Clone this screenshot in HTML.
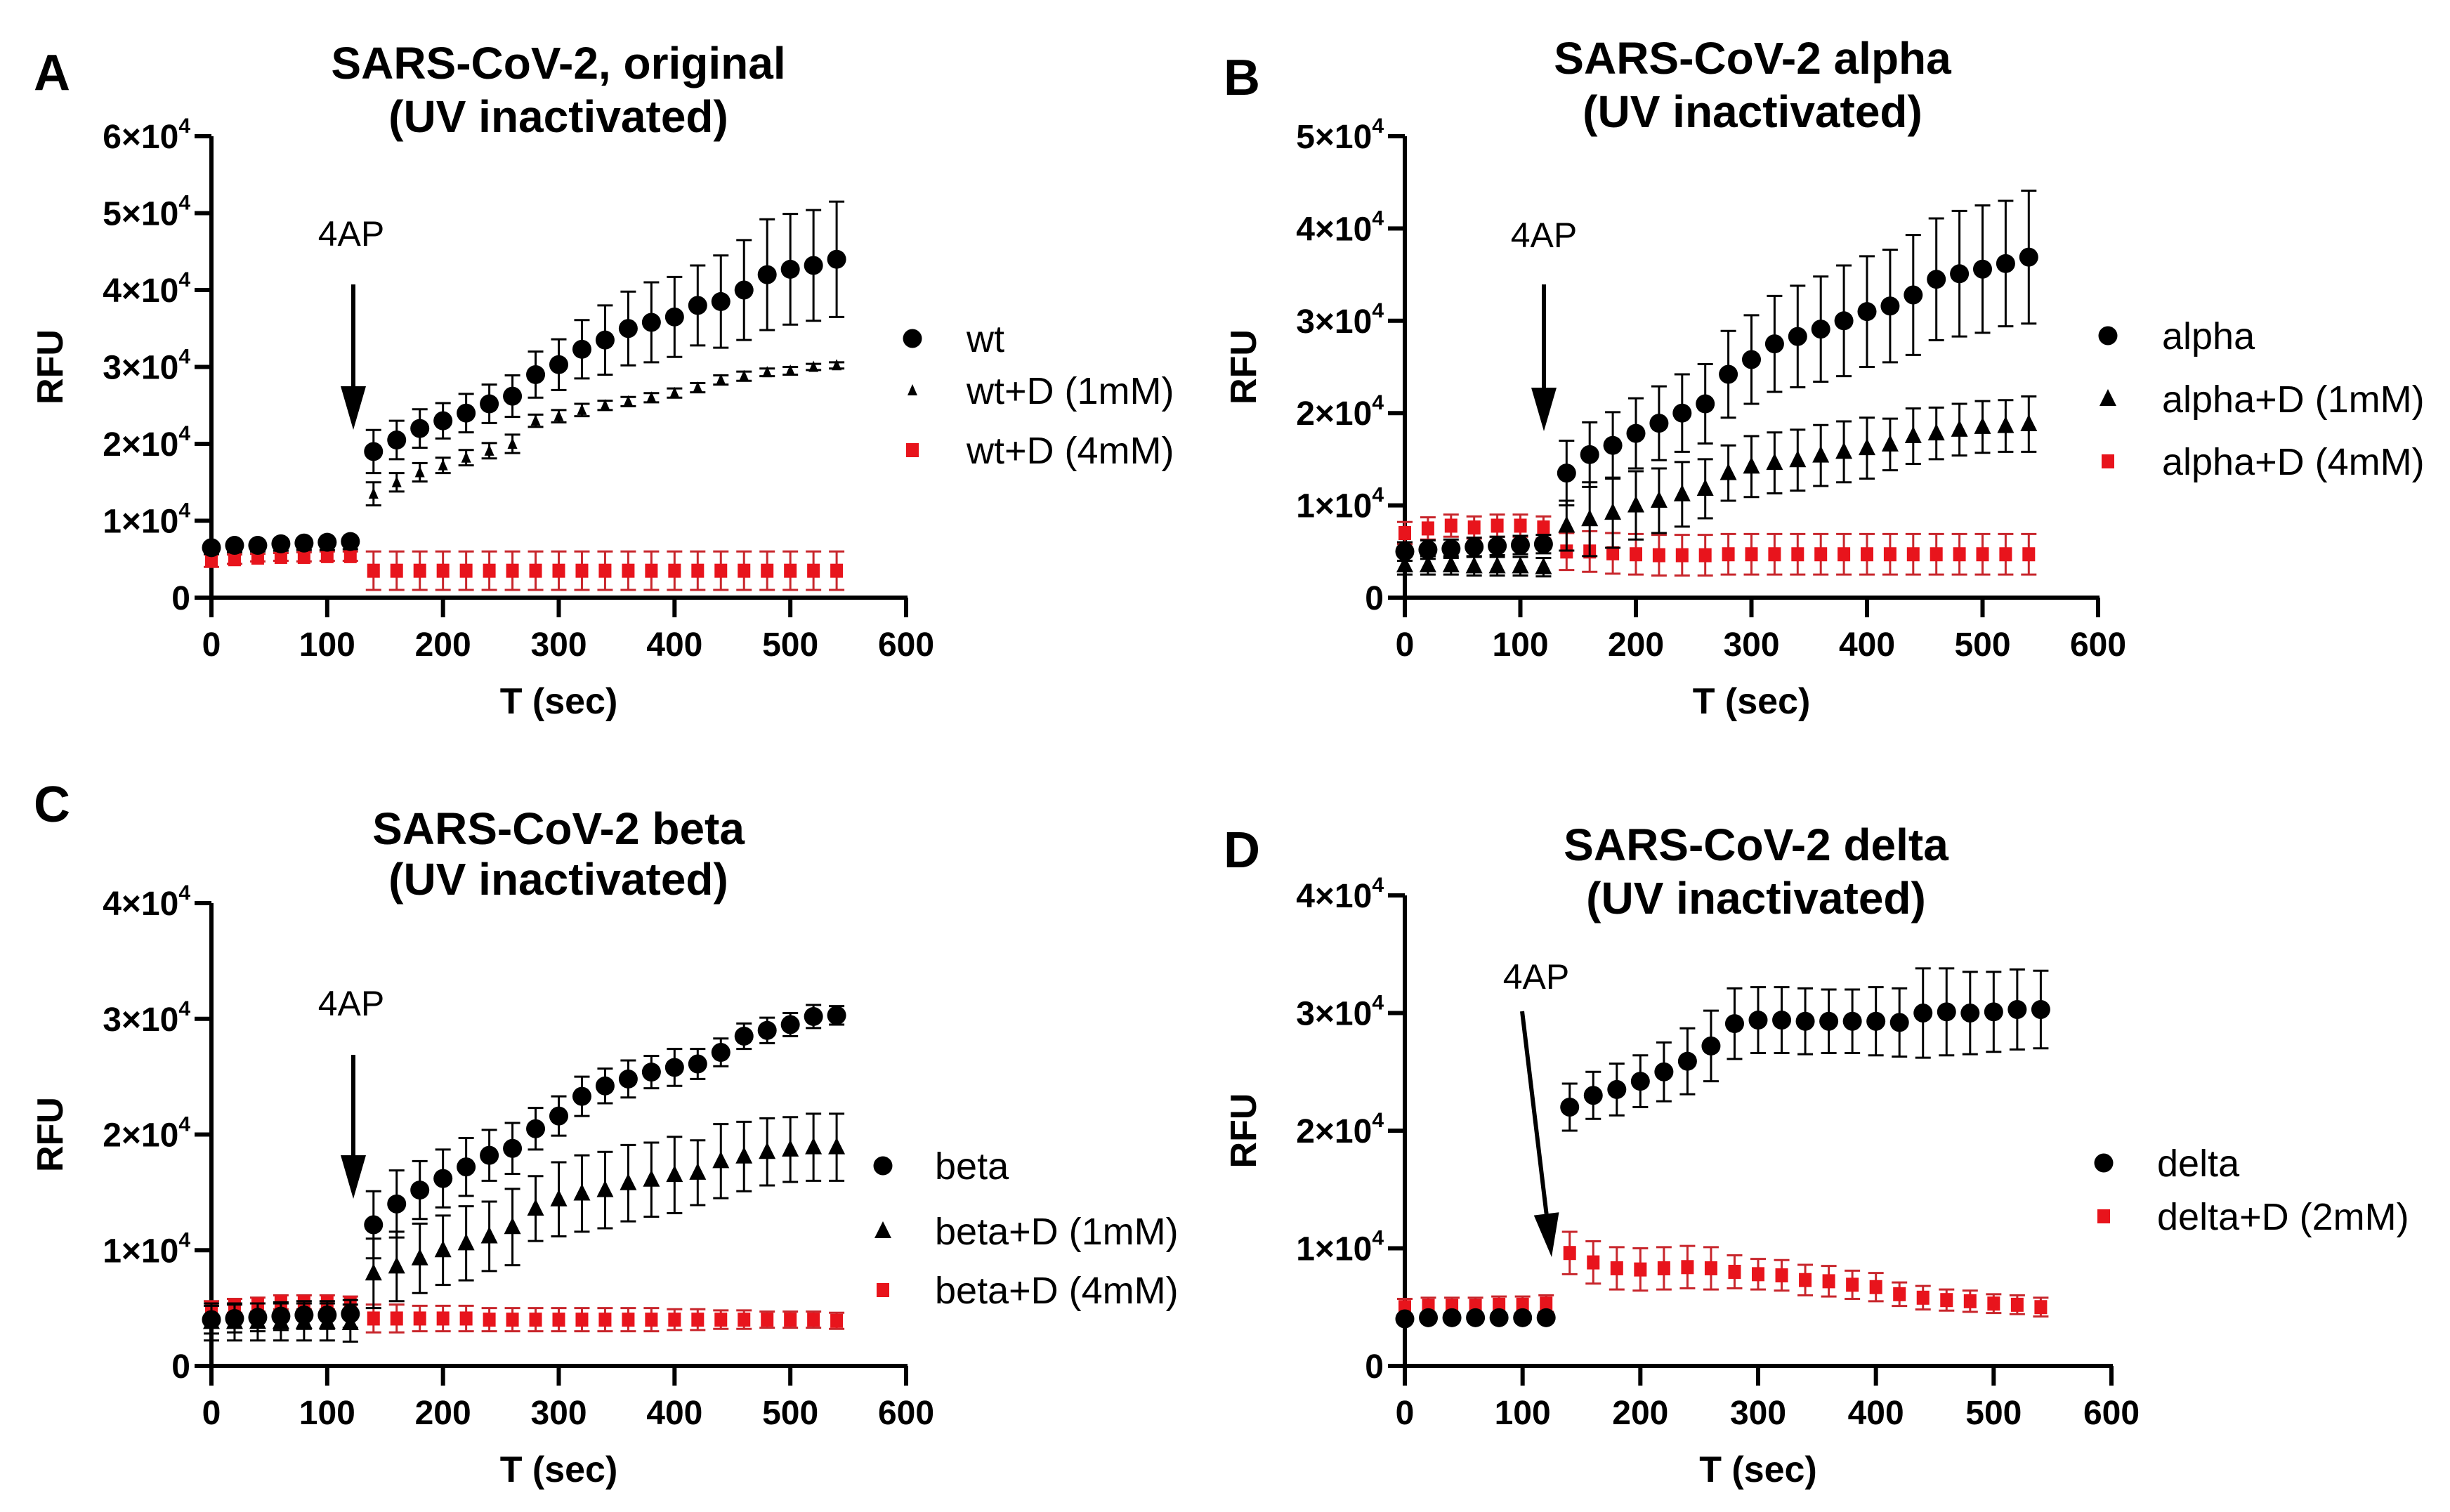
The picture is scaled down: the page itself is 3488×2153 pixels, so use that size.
<!DOCTYPE html>
<html><head><meta charset="utf-8"><style>
html,body{margin:0;padding:0;background:#fff;}
svg{display:block;}
text{font-family:"Liberation Sans",Arial,sans-serif;}
</style></head><body>
<svg id="fig" xmlns="http://www.w3.org/2000/svg" width="3488" height="2153" viewBox="0 0 3488 2153"></svg>
<script>
// ---- shared x values (sec) ----
const timesPre = [0,20,40,60,80,100,120];
const timesPost = [140,160,180,200,220,240,260,280,300,320,340,360,380,400,420,440,460,480,500,520,540];
const xTicks = [0,100,200,300,400,500,600];

// ---- Panel A (values in units of 1e4 RFU) ----
const aWtPre = [0.65,0.68,0.68,0.70,0.71,0.72,0.73];
const aWtPreErr = [0.05,0.05,0.05,0.05,0.05,0.05,0.05];
const aWtPost = [1.90,2.05,2.20,2.30,2.40,2.52,2.62,2.90,3.03,3.23,3.35,3.50,3.58,3.65,3.80,3.85,4.00,4.20,4.27,4.32,4.40];
const aWtPostErr = [0.28,0.25,0.25,0.23,0.25,0.25,0.27,0.30,0.33,0.38,0.45,0.48,0.52,0.52,0.52,0.60,0.65,0.72,0.72,0.72,0.75];
const aD1Pre = [0.62,0.64,0.65,0.66,0.67,0.67,0.68];
const aD1PreErr = [0.05,0.05,0.05,0.05,0.05,0.05,0.05];
const aD1Post = [1.35,1.50,1.63,1.72,1.82,1.91,2.00,2.30,2.36,2.44,2.50,2.55,2.60,2.66,2.73,2.83,2.88,2.93,2.95,3.00,3.02];
const aD1PostErr = [0.15,0.12,0.12,0.10,0.10,0.10,0.12,0.08,0.08,0.08,0.06,0.06,0.06,0.06,0.06,0.06,0.06,0.05,0.05,0.04,0.04];
const aD4Pre = [0.48,0.50,0.52,0.53,0.53,0.54,0.54];
const aD4PreErr = [0.08,0.06,0.05,0.05,0.06,0.06,0.06];
const aD4Post = [0.35,0.35,0.35,0.35,0.35,0.35,0.35,0.35,0.35,0.35,0.35,0.35,0.35,0.35,0.35,0.35,0.35,0.35,0.35,0.35,0.35];
const aD4PostErr = [0.25,0.25,0.25,0.25,0.25,0.25,0.25,0.25,0.25,0.25,0.25,0.25,0.25,0.25,0.25,0.25,0.25,0.25,0.25,0.25,0.25];
const aYTicks = [0,1,2,3,4,5,6];

// ---- Panel B ----
const bAlPre = [0.50,0.52,0.53,0.55,0.56,0.57,0.58];
const bAlPreErr = [0.10,0.10,0.10,0.10,0.10,0.10,0.10];
const bAlPost = [1.35,1.55,1.65,1.78,1.89,2.00,2.10,2.42,2.58,2.75,2.83,2.91,3.00,3.10,3.16,3.28,3.45,3.51,3.56,3.62,3.69];
const bAlPostErr = [0.35,0.35,0.36,0.38,0.40,0.42,0.43,0.47,0.48,0.52,0.55,0.57,0.60,0.60,0.61,0.65,0.66,0.68,0.69,0.68,0.72];
const bD1Pre = [0.35,0.35,0.35,0.34,0.34,0.34,0.33];
const bD1PreErr = [0.10,0.10,0.10,0.10,0.10,0.10,0.10];
const bD1Post = [0.78,0.85,0.92,1.00,1.05,1.12,1.18,1.35,1.42,1.46,1.49,1.54,1.58,1.62,1.66,1.75,1.78,1.82,1.85,1.86,1.88];
const bD1PostErr = [0.27,0.40,0.38,0.37,0.35,0.35,0.32,0.30,0.33,0.33,0.33,0.33,0.33,0.33,0.28,0.30,0.28,0.28,0.28,0.28,0.30];
const bD4Pre = [0.70,0.75,0.78,0.76,0.78,0.78,0.76];
const bD4PreErr = [0.12,0.12,0.12,0.12,0.12,0.12,0.12];
const bD4Post = [0.50,0.50,0.48,0.47,0.46,0.46,0.46,0.47,0.47,0.47,0.47,0.47,0.47,0.47,0.47,0.47,0.47,0.47,0.47,0.47,0.47];
const bD4PostErr = [0.20,0.22,0.22,0.22,0.22,0.22,0.22,0.22,0.22,0.22,0.22,0.22,0.22,0.22,0.22,0.22,0.22,0.22,0.22,0.22,0.22];
const bYTicks = [0,1,2,3,4,5];

// ---- Panel C ----
const cBePre = [0.40,0.41,0.42,0.43,0.44,0.44,0.45];
const cBePreErr = [0.12,0.12,0.12,0.12,0.12,0.12,0.12];
const cBePost = [1.22,1.40,1.52,1.62,1.72,1.82,1.88,2.05,2.16,2.33,2.42,2.48,2.54,2.58,2.61,2.71,2.85,2.90,2.95,3.02,3.03];
const cBePostErr = [0.29,0.29,0.25,0.25,0.25,0.22,0.22,0.18,0.17,0.17,0.15,0.16,0.14,0.16,0.13,0.12,0.11,0.11,0.10,0.10,0.08];
const cD1Pre = [0.38,0.38,0.38,0.38,0.38,0.38,0.37];
const cD1PreErr = [0.16,0.16,0.16,0.16,0.16,0.16,0.16];
const cD1Post = [0.80,0.86,0.93,1.00,1.06,1.12,1.20,1.36,1.44,1.49,1.52,1.58,1.61,1.65,1.67,1.77,1.81,1.85,1.87,1.89,1.89];
const cD1PostErr = [0.30,0.30,0.30,0.30,0.32,0.30,0.33,0.28,0.32,0.33,0.33,0.33,0.32,0.33,0.28,0.32,0.30,0.29,0.28,0.29,0.29];
const cD4Pre = [0.50,0.52,0.53,0.55,0.55,0.55,0.54];
const cD4PreErr = [0.06,0.06,0.06,0.06,0.06,0.06,0.06];
const cD4Post = [0.41,0.41,0.41,0.41,0.41,0.40,0.40,0.40,0.40,0.40,0.40,0.40,0.40,0.40,0.40,0.40,0.40,0.40,0.40,0.40,0.39];
const cD4PostErr = [0.12,0.12,0.11,0.11,0.11,0.10,0.10,0.10,0.10,0.10,0.10,0.10,0.10,0.09,0.09,0.08,0.08,0.07,0.07,0.07,0.07];
const cYTicks = [0,1,2,3,4];

// ---- Panel D ----
const dDePre = [0.40,0.41,0.41,0.41,0.41,0.41,0.41];
const dDePreErr = [0.03,0.03,0.03,0.03,0.03,0.03,0.03];
const dDePost = [2.20,2.30,2.35,2.42,2.50,2.59,2.72,2.91,2.94,2.94,2.93,2.93,2.93,2.93,2.92,3.00,3.01,3.00,3.01,3.03,3.03];
const dDePostErr = [0.20,0.20,0.22,0.22,0.25,0.28,0.30,0.30,0.28,0.28,0.28,0.27,0.27,0.29,0.29,0.38,0.37,0.35,0.34,0.34,0.33];
const dD2Pre = [0.50,0.51,0.51,0.51,0.52,0.52,0.53];
const dD2PreErr = [0.07,0.07,0.07,0.07,0.07,0.07,0.07];
const dD2Post = [0.96,0.88,0.83,0.82,0.83,0.84,0.83,0.80,0.78,0.77,0.73,0.72,0.69,0.67,0.61,0.58,0.56,0.55,0.53,0.52,0.50];
const dD2PostErr = [0.18,0.18,0.18,0.18,0.18,0.18,0.18,0.14,0.13,0.13,0.13,0.13,0.12,0.12,0.10,0.10,0.09,0.09,0.08,0.08,0.08];
const dYTicks = [0,1,2,3,4];

const NS = "http://www.w3.org/2000/svg";
const svg = document.getElementById('fig');
const red='#e8141c', blk='#000';
function mk(tag, attrs, parent){
  const e = document.createElementNS(NS, tag);
  for (const k in attrs) e.setAttribute(k, attrs[k]);
  (parent||svg).appendChild(e);
  return e;
}
function marker(g, shape, cx, cy, color){
  if (shape==='circle') return mk('circle',{cx:cx,cy:cy,r:13.5,fill:color},g);
  if (shape==='square') return mk('rect',{x:cx-9,y:cy-10,width:18,height:20,fill:color},g);
  if (shape==='tri') return mk('polygon',{points:`${cx},${cy-14} ${cx-12},${cy+10} ${cx+12},${cy+10}`,fill:color},g);
  return mk('polygon',{points:`${cx},${cy-9} ${cx-7},${cy+7} ${cx+7},${cy+7}`,fill:color},g);
}

function panel(P){
  const g = mk('g',{});
  
  
  const sx = v => P.x0 + (v/600)*(P.x600-P.x0);
  const sy = v => P.y0 - (v/P.ymax)*(P.y0-P.ytop);
  const L = mk('text',{x:P.lx,y:P.ly,'font-size':72,'font-weight':'bold'},g);
  L.textContent = P.id;
  
  
  P.title.forEach((t,i)=>{
    const T = mk('text',{x:P.tx,y:P.ty[i],'font-size':64,'font-weight':'bold','text-anchor':'middle'},g);
    T.textContent = t;
    
    
  });
  const ax = mk('path',{d:`M${P.x0},${P.ytop} V${P.y0} M${P.x0-24},${P.y0} H${P.x600+2}`,stroke:'#000','stroke-width':6,fill:'none'},g);
  
  
  xTicks.forEach(v=>{
    const x = sx(v);
    const tk = mk('line',{x1:x,y1:P.y0,x2:x,y2:P.y0+28,stroke:'#000','stroke-width':6},g);
    
    
    const tl = mk('text',{x:x,y:P.y0+83,'font-size':48,'font-weight':'bold','text-anchor':'middle'},g);
    tl.textContent = String(v);
    
    
  });
  P.yticks.forEach(v=>{
    const y = sy(v);
    const tk = mk('line',{x1:P.x0-24,y1:y,x2:P.x0,y2:y,stroke:'#000','stroke-width':6},g);
    
    
    const tl = mk('text',{x:P.x0-30,y:y+17,'font-size':48,'font-weight':'bold','text-anchor':'end'},g);
    if (v===0) tl.textContent = '0';
    else {
      const a = mk('tspan',{},tl); a.textContent = v+'×10';
      const b = mk('tspan',{'font-size':30,dy:-22}, tl); b.textContent = '4';
    }
    
    
  });
  const xt = mk('text',{x:(P.x0+P.x600)/2,y:P.y0+165,'font-size':52,'font-weight':'bold','text-anchor':'middle'},g);
  xt.textContent = 'T (sec)';
  
  
  const yt = mk('text',{x:0,y:0,'font-size':52,'font-weight':'bold','text-anchor':'middle',transform:`translate(${P.x0-212},${(P.y0+P.ytop)/2}) rotate(-90)`},g);
  yt.textContent = 'RFU';
  
  
  const at = mk('text',{x:P.ax,y:P.aty,'font-size':50,'text-anchor':'middle'},g);
  at.textContent = '4AP';
  
  
  const x1=P.arrow[0], y1=P.arrow[1], x2=P.arrow[2], y2=P.arrow[3];
  const ang = Math.atan2(y2-y1,x2-x1);
  const hl=62, hw=18;
  const bx = x2 - hl*Math.cos(ang), by = y2 - hl*Math.sin(ang);
  const px = -Math.sin(ang)*hw, py = Math.cos(ang)*hw;
  const al = mk('line',{x1:x1,y1:y1,x2:bx,y2:by,stroke:'#000','stroke-width':6},g);
  
  
  const ah = mk('polygon',{points:`${x2},${y2} ${bx+px},${by+py} ${bx-px},${by-py}`,fill:'#000'},g);
  
  
  P.series.forEach(s=>{
    const sg = mk('g',{},g);
    
    
    const pts = [];
    timesPre.forEach((t,i)=>pts.push([t,s.pre[i],s.preErr[i]]));
    timesPost.forEach((t,i)=>pts.push([t,s.post[i],s.postErr[i]]));
    pts.forEach(p=>{
      const x = sx(p[0]), y = sy(p[1]), yh = sy(p[1]+p[2]), yl = sy(p[1]-p[2]);
      const ec = s.color===red ? '#c8262c' : '#000';
      const eb = mk('path',{d:`M${x},${yh} V${yl} M${x-11},${yh} H${x+11} M${x-11},${yl} H${x+11}`,stroke:ec,'stroke-width':3,fill:'none'},sg);
      
      
      const m = marker(sg, s.shape, x, y, s.color);
      
      
    });
  });
  P.legend.forEach((s,i)=>{
    const lg = mk('g',{},g);
    
    
    marker(lg, s.shape, P.lmx, P.legY[i], s.color);
    const lt = mk('text',{x:P.ltx,y:P.legY[i]+19,'font-size':54},lg);
    lt.textContent = s.name;
  });
}

const A_wt={name:'wt',shape:'circle',color:blk,pre:aWtPre,preErr:aWtPreErr,post:aWtPost,postErr:aWtPostErr};
const A_d1={name:'wt+D (1mM)',shape:'smalltri',color:blk,pre:aD1Pre,preErr:aD1PreErr,post:aD1Post,postErr:aD1PostErr};
const A_d4={name:'wt+D (4mM)',shape:'square',color:red,pre:aD4Pre,preErr:aD4PreErr,post:aD4Post,postErr:aD4PostErr};
panel({id:'A',x0:301,x600:1290,y0:851,ytop:194,ymax:6,yticks:aYTicks,lx:48,ly:128,
  title:['SARS-CoV-2, original','(UV inactivated)'],tx:795,ty:[112,188],
  ax:500,aty:350,arrow:[503,405,503,612],
  series:[A_d4,A_d1,A_wt],legend:[A_wt,A_d1,A_d4],lmx:1299,ltx:1376,legY:[482,556,641]});

const B_al={name:'alpha',shape:'circle',color:blk,pre:bAlPre,preErr:bAlPreErr,post:bAlPost,postErr:bAlPostErr};
const B_d1={name:'alpha+D (1mM)',shape:'tri',color:blk,pre:bD1Pre,preErr:bD1PreErr,post:bD1Post,postErr:bD1PostErr};
const B_d4={name:'alpha+D (4mM)',shape:'square',color:red,pre:bD4Pre,preErr:bD4PreErr,post:bD4Post,postErr:bD4PostErr};
panel({id:'B',x0:2000,x600:2987,y0:851,ytop:194,ymax:5,yticks:bYTicks,lx:1742,ly:135,
  title:['SARS-CoV-2 alpha','(UV inactivated)'],tx:2495,ty:[105,181],
  ax:2198,aty:352,arrow:[2198,405,2198,614],
  series:[B_d4,B_d1,B_al],legend:[B_al,B_d1,B_d4],lmx:3001,ltx:3078,legY:[478,568,657]});

const C_be={name:'beta',shape:'circle',color:blk,pre:cBePre,preErr:cBePreErr,post:cBePost,postErr:cBePostErr};
const C_d1={name:'beta+D (1mM)',shape:'tri',color:blk,pre:cD1Pre,preErr:cD1PreErr,post:cD1Post,postErr:cD1PostErr};
const C_d4={name:'beta+D (4mM)',shape:'square',color:red,pre:cD4Pre,preErr:cD4PreErr,post:cD4Post,postErr:cD4PostErr};
panel({id:'C',x0:301,x600:1290,y0:1945,ytop:1286,ymax:4,yticks:cYTicks,lx:48,ly:1170,
  title:['SARS-CoV-2 beta','(UV inactivated)'],tx:795,ty:[1202,1274],
  ax:500,aty:1446,arrow:[503,1502,503,1707],
  series:[C_d4,C_d1,C_be],legend:[C_be,C_d1,C_d4],lmx:1257,ltx:1331,legY:[1660,1753,1837]});

const D_de={name:'delta',shape:'circle',color:blk,pre:dDePre,preErr:dDePreErr,post:dDePost,postErr:dDePostErr};
const D_d2={name:'delta+D (2mM)',shape:'square',color:red,pre:dD2Pre,preErr:dD2PreErr,post:dD2Post,postErr:dD2PostErr};
panel({id:'D',x0:2000,x600:3006,y0:1945,ytop:1275,ymax:4,yticks:dYTicks,lx:1742,ly:1235,
  title:['SARS-CoV-2 delta','(UV inactivated)'],tx:2500,ty:[1225,1301],
  ax:2187,aty:1408,arrow:[2167,1440,2209,1790],
  series:[D_d2,D_de],legend:[D_de,D_d2],lmx:2995,ltx:3071,legY:[1656,1732]});
</script>
</body></html>
